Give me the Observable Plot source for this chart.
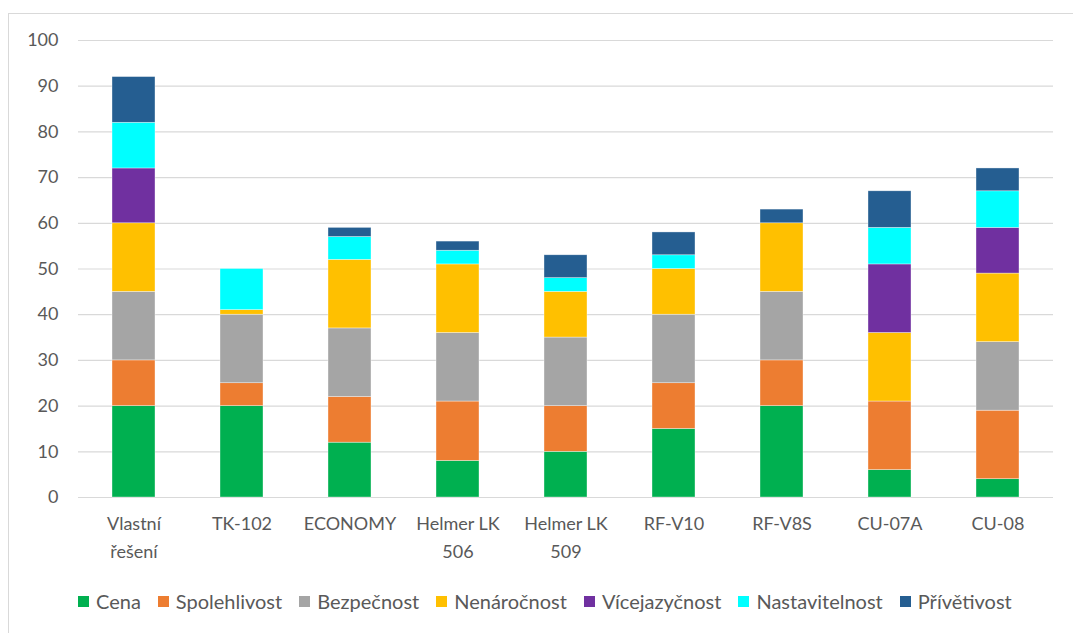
<!DOCTYPE html>
<html>
<head>
<meta charset="utf-8">
<script src="https://cdn.jsdelivr.net/npm/d3@7"></script>
<script src="https://cdn.jsdelivr.net/npm/@observablehq/plot@0.6"></script>
<style>
  body { margin: 0; background: #fff; font-family: Lato, "Open Sans", sans-serif; }
  #frame { position: absolute; left: 8px; top: 13px; width: 1200px; height: 800px; border: 1px solid #d9d9d9; }
  #chart { position: absolute; left: 0; top: 0; }
  #legend { position: absolute; left: 78px; top: 589px; display: flex; gap: 17px; font-size: 20px; color: #595959; white-space: nowrap; }
  #legend .item { display: flex; align-items: center; gap: 7px; }
  #legend .sw { width: 11px; height: 11px; display: inline-block; }
</style>
</head>
<body>
<div id="frame"></div>
<div id="chart"></div>
<div id="legend"></div>
<script>
const categories = ["Vlastní\nřešení", "TK-102", "ECONOMY", "Helmer LK\n506", "Helmer LK\n509", "RF-V10", "RF-V8S", "CU-07A", "CU-08"];
const seriesNames = ["Cena", "Spolehlivost", "Bezpečnost", "Nenáročnost", "Vícejazyčnost", "Nastavitelnost", "Přívětivost"];
const colors = ["#00b050", "#ed7d31", "#a5a5a5", "#ffc000", "#7030a0", "#00ffff", "#255e91"];
const cena          = [20, 20, 12,  8, 10, 15, 20,  6,  4];
const spolehlivost  = [10,  5, 10, 13, 10, 10, 10, 15, 15];
const bezpecnost    = [15, 15, 15, 15, 15, 15, 15,  0, 15];
const nenarocnost   = [15,  1, 15, 15, 10, 10, 15, 15, 15];
const vicejazycnost = [12,  0,  0,  0,  0,  0,  0, 15, 10];
const nastavitelnost= [10,  9,  5,  3,  3,  3,  0,  8,  8];
const privetivost   = [10,  0,  2,  2,  5,  5,  3,  8,  5];
const yTicks = [0, 10, 20, 30, 40, 50, 60, 70, 80, 90, 100];

const seriesValues = [cena, spolehlivost, bezpecnost, nenarocnost, vicejazycnost, nastavitelnost, privetivost];
const data = [];
seriesNames.forEach((s, si) => {
  categories.forEach((c, ci) => {
    data.push({category: c, series: s, value: seriesValues[si][ci]});
  });
});

const chart = Plot.plot({
  width: 1073,
  height: 580,
  marginLeft: 78,
  marginRight: 20,
  marginTop: 40,
  marginBottom: 83,
  style: {fontFamily: "Lato, 'Open Sans', sans-serif", fontSize: "18px", color: "#595959", background: "transparent"},
  x: {domain: categories, paddingInner: 0.6, paddingOuter: 0.3, label: null},
  y: {domain: [0, 100], label: null},
  color: {domain: seriesNames, range: colors},
  marks: [
    Plot.gridY(yTicks, {stroke: "#d9d9d9", strokeOpacity: 1, strokeWidth: 1.2}),
    Plot.axisY(yTicks, {tickSize: 0, tickPadding: 20, label: null, fill: "#595959"}),
    Plot.axisX({tickSize: 0, tickPadding: 13, label: null, lineHeight: 1.55, fill: "#595959"}),
    Plot.barY(data, Plot.stackY({x: "category", y: "value", fill: "series", order: seriesNames, stroke: "#ffffff", strokeWidth: 0.6, strokeOpacity: 0.6}))
  ]
});
document.getElementById("chart").appendChild(chart);

const legend = document.getElementById("legend");
seriesNames.forEach((s, i) => {
  const item = document.createElement("div");
  item.className = "item";
  const sw = document.createElement("span");
  sw.className = "sw";
  sw.style.background = colors[i];
  const t = document.createElement("span");
  t.textContent = s;
  item.appendChild(sw);
  item.appendChild(t);
  legend.appendChild(item);
});
</script>
</body>
</html>
